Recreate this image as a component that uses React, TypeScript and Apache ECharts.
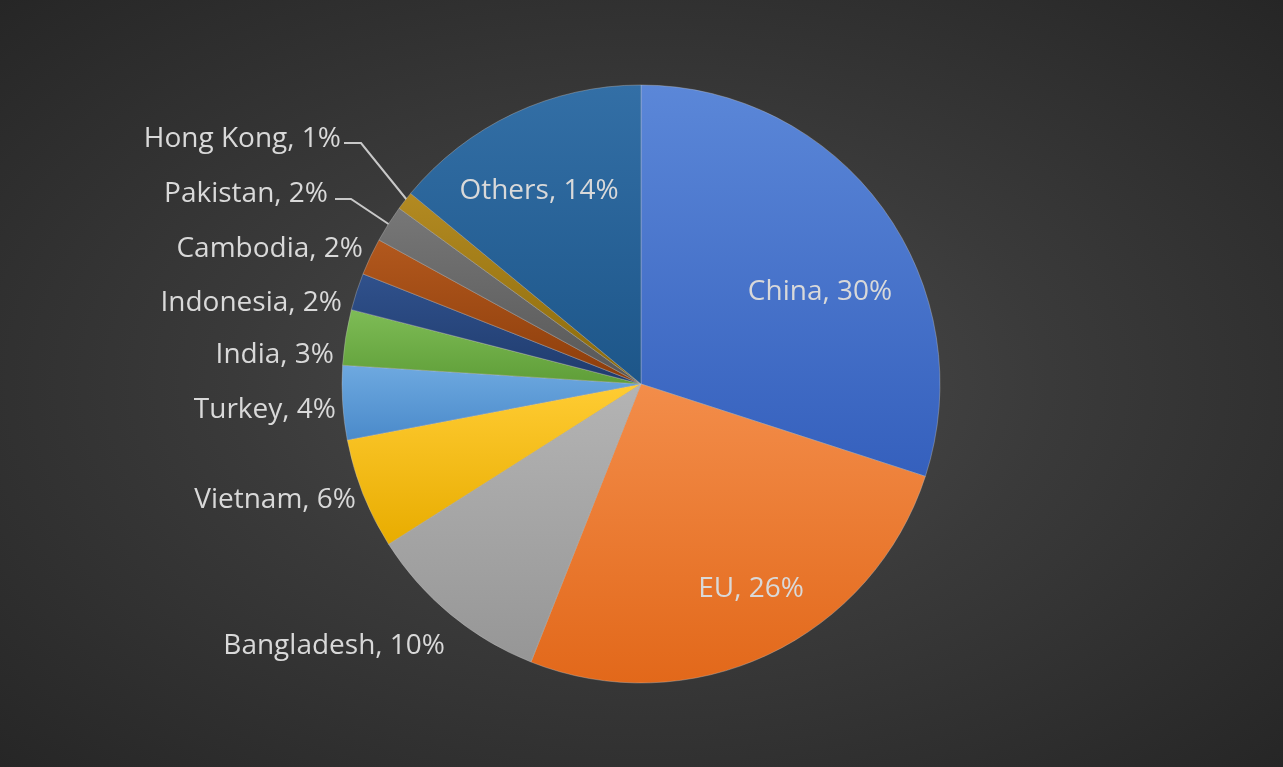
import React, { useEffect, useRef } from "react";
import * as echarts from "echarts";

const categories = ["China", "EU", "Bangladesh", "Vietnam", "Turkey", "India", "Indonesia", "Cambodia", "Pakistan", "Hong Kong", "Others"];
const shares = [30, 26, 10, 6, 4, 3, 2, 2, 2, 1, 14];
const topColors = ["#5B87D8", "#F38D4A", "#B4B4B4", "#FFCC33", "#6EA9E0", "#7EBC56", "#30518C", "#B2581D", "#777777", "#B38A22", "#336FA6"];
const bottomColors = ["#3560BD", "#E2681A", "#969696", "#E8AC00", "#4A8ACA", "#5F9E38", "#1F3B6D", "#8C3D0B", "#575757", "#8A6A0A", "#1D5689"];
const insideNames = ["China", "EU", "Others"];

// label anchor placement (pixels), Excel best-fit style
const labelAnchors: Record<string, { x: number; y: number; align: string }> = {
  China: { x: 820, y: 289, align: "center" },
  EU: { x: 751, y: 586, align: "center" },
  Others: { x: 539, y: 188, align: "center" },
  Bangladesh: { x: 445, y: 643, align: "right" },
  Vietnam: { x: 356, y: 497, align: "right" },
  Turkey: { x: 336, y: 407, align: "right" },
  India: { x: 334, y: 352, align: "right" },
  Indonesia: { x: 342, y: 300, align: "right" },
  Cambodia: { x: 363, y: 246, align: "right" },
  Pakistan: { x: 328, y: 191, align: "right" },
  "Hong Kong": { x: 341, y: 136, align: "right" },
};
const leaderLines: Record<string, number[][]> = {
  Pakistan: [[335, 199], [351, 199], [390, 225]],
  "Hong Kong": [[344, 143], [361, 143], [407, 200]],
};

export default function App() {
  const ref = useRef<HTMLDivElement>(null);
  useEffect(() => {
    if (!ref.current) return;
    const chart = echarts.init(ref.current, null, { renderer: "svg" });
    const data = categories.map((name, i) => ({
      name,
      value: shares[i],
      itemStyle: {
        color: new echarts.graphic.LinearGradient(0, 0, 0, 1, [
          { offset: 0, color: topColors[i] },
          { offset: 1, color: bottomColors[i] },
        ]),
      },
      label: { position: insideNames.includes(name) ? "inside" : "outside" },
      labelLine: { show: !!leaderLines[name] },
    }));
    chart.setOption({
      animation: false,
      backgroundColor: "transparent",
      series: [
        {
          type: "pie",
          center: [641, 384],
          radius: [0, 299],
          startAngle: 90,
          clockwise: true,
          avoidLabelOverlap: false,
          silent: true,
          data,
          itemStyle: { borderColor: "rgba(200,200,200,0.45)", borderWidth: 0.8 },
          label: {
            show: true,
            formatter: (p: any) => `${p.name}, ${p.value}%`,
            color: "#D9D9D9",
            fontFamily: "Open Sans",
            fontSize: 28,
          },
          labelLine: {
            show: false,
            length: 10,
            length2: 10,
            smooth: false,
            lineStyle: { color: "#C8C8C8", width: 2 },
          },
          labelLayout: (params: any) => {
            const name = categories[params.dataIndex];
            const a = labelAnchors[name];
            const out: any = { x: a.x, y: a.y, align: a.align, verticalAlign: "middle" };
            if (leaderLines[name]) out.labelLinePoints = leaderLines[name];
            return out;
          },
        },
      ],
    });
    return () => chart.dispose();
  }, []);
  return (
    <div
      style={{
        position: "fixed",
        left: 0,
        top: 0,
        width: 1283,
        height: 767,
        background: "radial-gradient(ellipse at 50% 50%, #4e4e4e 0%, #3a3a3a 45%, #262626 100%)",
      }}
    >
      <div ref={ref} style={{ width: 1283, height: 767 }} />
    </div>
  );
}
